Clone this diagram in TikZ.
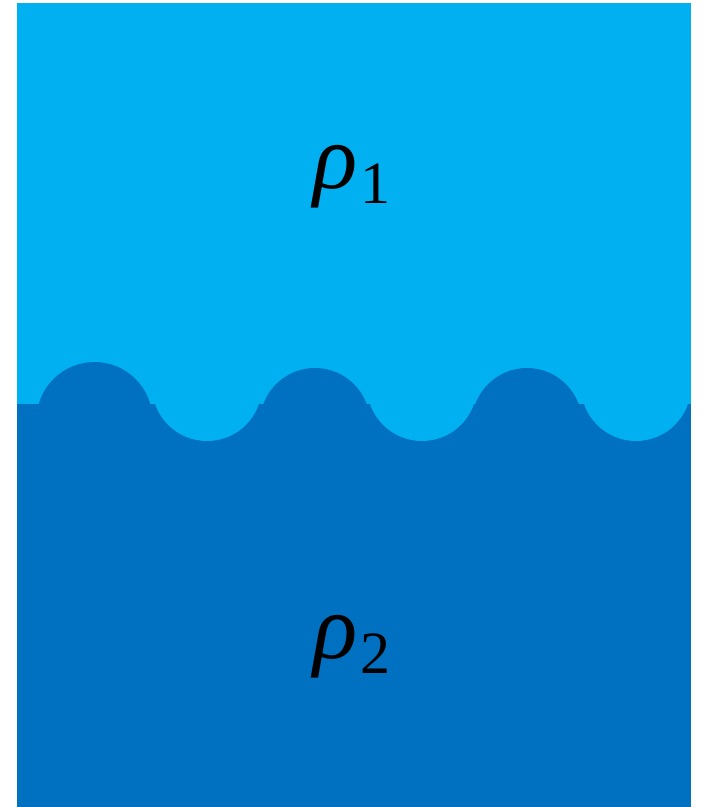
\documentclass[tikz,border=0pt]{standalone}
\usepackage{fontspec}
\setmainfont{Liberation Serif}
\definecolor{lightwater}{HTML}{00B0F0}
\definecolor{darkwater}{HTML}{0070C0}
\tikzset{
  upper/.style={fill=lightwater, draw=none},
  lower/.style={fill=darkwater, draw=none},
  lbl/.style={inner sep=0pt, anchor=base west}
}
\newcommand{\bigrho}{{\fontsize{92}{92}\selectfont\itshape ρ}}
\newcommand{\subdigit}[1]{\kern3pt\raisebox{-15pt}{\fontsize{60}{60}\selectfont #1}}
\begin{document}
\begin{tikzpicture}[x=1pt,y=-1pt]
\useasboundingbox (0,0) rectangle (705,807);
% upper fluid
\fill[upper] (17,3) rectangle (691,404);
% lower fluid
\fill[lower] (17,404) rectangle (691,807);
% troughs of upper fluid
\fill[upper] (207,386) circle[radius=55];
\fill[upper] (422,386) circle[radius=55];
\fill[upper] (636,386) circle[radius=55];
% crests of lower fluid
\fill[lower] (94.5,420) circle[radius=58];
\fill[lower] (315,423) circle[radius=55];
\fill[lower] (527,423) circle[radius=55];
% labels
\node[lbl] (rho1) at (313,188) {\bigrho\subdigit{1}};
\node[lbl] (rho2) at (313,658) {\bigrho\subdigit{2}};
\end{tikzpicture}
\end{document}
